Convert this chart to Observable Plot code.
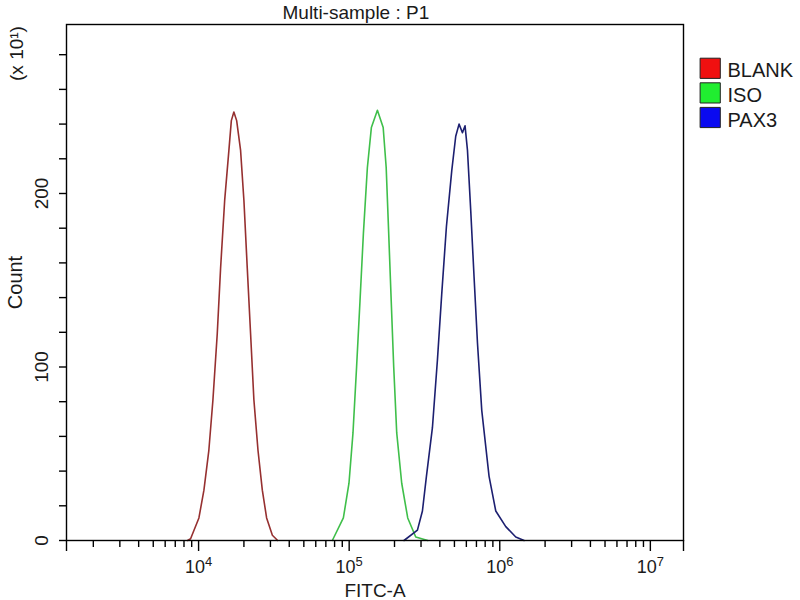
<!DOCTYPE html>
<html><head><meta charset="utf-8">
<script src="https://cdn.jsdelivr.net/npm/d3@7"></script>
<script src="https://cdn.jsdelivr.net/npm/@observablehq/plot@0.6"></script>
<style>body{margin:0;background:#fff}</style>
</head><body><div id="chart"></div>
<script>
// ---- data (FITC-A intensity, Count in units of x10^1) ----
const seriesNames = ["BLANK", "ISO", "PAX3"];
const blankX = [8450, 8850, 10050, 10850, 11700, 12450, 13300, 14000, 14900, 15900, 16500, 17150, 17900, 19000, 20000, 21050, 22150, 23300, 24800, 26500, 28300, 30900, 33500];
const blankY = [0, 1, 13, 29, 52, 81, 119, 157, 196, 225, 242, 247, 242, 225, 196, 157, 119, 81, 52, 29, 13, 3, 0];
const isoX = [77300, 91500, 99700, 106000, 112000, 118000, 124300, 132100, 140400, 154000, 168200, 176100, 183000, 190200, 197600, 206900, 223300, 244800, 276700, 332400];
const isoY = [0, 13, 33, 62, 100, 138, 177, 215, 238, 248, 238, 215, 177, 138, 100, 62, 33, 13, 2, 0];
const paxX = [231300, 284000, 306500, 325800, 357100, 385500, 411700, 442400, 479800, 510000, 536600, 565200, 588100, 610200, 641700, 674900, 711000, 759300, 849100, 940700, 1096300, 1277300, 1450600];
const paxY = [0, 6, 17, 37, 65, 104, 142, 181, 213, 233, 240, 235, 239, 225, 190, 152, 114, 75, 37, 17, 8, 2, 0];

const xDomain = [1327, 16600000];
const yDomain = [0, 297.4];
const majorTicks = [1e4, 1e5, 1e6, 1e7];
const majorBase = "10";
const majorExponents = ["4", "5", "6", "7"];
const yMinorTicks = [0, 20, 40, 60, 80, 100, 120, 140, 160, 180, 200, 220, 240, 260, 280];
const yLabelTicks = [0, 100, 200];
const minorTicks = [];
for (const p of [1e3, 1e4, 1e5, 1e6]) for (let m = 2; m <= 9; m++) minorTicks.push(m * p);

const lineColors = ["#963030", "#3fbf4a", "#1c1f70"];
const swatchColors = ["#f01010", "#20ee30", "#0a0af0"];

const titleText = "Multi-sample : P1";
const xLabel = "FITC-A";
const yLabel = "Count";
const yUnit = "(x 10\u00b9)";

// ---- build table ----
const xs = [blankX, isoX, paxX], ys = [blankY, isoY, paxY];
const data = seriesNames.flatMap((s, i) => xs[i].map((x, j) => ({series: s, x, y: ys[i][j]})));

const font = "'Liberation Sans', Arial, sans-serif";
const textColor = "#1a1a1a";

const legendMarks = seriesNames.flatMap((s, i) => [
  Plot.dot([0], {frameAnchor: "top-right", dx: 26.7, dy: 43.8 + i * 24.6, symbol: "square", r: 11.4,
    fill: swatchColors[i], stroke: "#222", strokeWidth: 1}),
  Plot.text([s], {frameAnchor: "top-right", dx: 44, dy: 52.8 + i * 24.6, textAnchor: "start",
    lineAnchor: "bottom", fontSize: 20, fill: textColor})
]);

const chart = Plot.plot({
  width: 800, height: 600,
  marginLeft: 66, marginRight: 117, marginTop: 24, marginBottom: 60,
  style: {fontFamily: font, background: "#fff", color: textColor},
  x: {type: "log", domain: xDomain, label: null},
  y: {domain: yDomain, label: null},
  color: {domain: seriesNames, range: lineColors},
  marks: [
    Plot.axisX({ticks: minorTicks, tickSize: 7, tickFormat: () => "", strokeWidth: 1.4, stroke: "#000"}),
    Plot.axisX({ticks: xDomain, tickSize: 11, tickFormat: () => "", strokeWidth: 1.4, stroke: "#000"}),
    Plot.axisX({ticks: majorTicks, tickSize: 11, tickPadding: 9, strokeWidth: 1.4, stroke: "#000",
      tickFormat: d => "X" + majorExponents[majorTicks.indexOf(d)], fontSize: 18, fill: textColor}),
    Plot.axisY({ticks: yMinorTicks, tickSize: 7, tickFormat: () => "", strokeWidth: 1.4, stroke: "#000"}),
    Plot.text(yLabelTicks, {y: d => d, text: d => String(d), frameAnchor: "left", dx: -19,
      rotate: -90, textAnchor: "middle", lineAnchor: "bottom", fontSize: 19, fill: textColor}),
    Plot.line(data, {x: "x", y: "y", z: "series", stroke: "series", strokeWidth: 1.6}),
    Plot.frame({stroke: "#000", strokeWidth: 1.4}),
    Plot.text([titleText], {frameAnchor: "top-left", dx: 216, dy: -6, textAnchor: "start",
      lineAnchor: "bottom", fontSize: 19, fill: textColor}),
    Plot.text([xLabel], {frameAnchor: "bottom", dy: 56, textAnchor: "middle", lineAnchor: "bottom", fontSize: 19, fill: textColor}),
    Plot.text([yLabel], {frameAnchor: "left", dx: -44.5, rotate: -90, textAnchor: "middle", lineAnchor: "bottom", fontSize: 20, fill: textColor}),
    Plot.text([yUnit], {frameAnchor: "top-left", dx: -44, dy: 29, rotate: -90, textAnchor: "middle", lineAnchor: "bottom", fontSize: 19, fill: textColor}),
    ...legendMarks
  ]
});
document.getElementById("chart").appendChild(chart);

// superscript exponents on the decade labels
d3.select(chart).selectAll("text").each(function () {
  const t = this.textContent;
  if (/^X\d$/.test(t)) {
    const sel = d3.select(this);
    sel.text(majorBase);
    sel.append("tspan").attr("dy", "-0.55em").attr("font-size", "0.72em").text(t.slice(1));
  }
});
</script>
</body></html>
